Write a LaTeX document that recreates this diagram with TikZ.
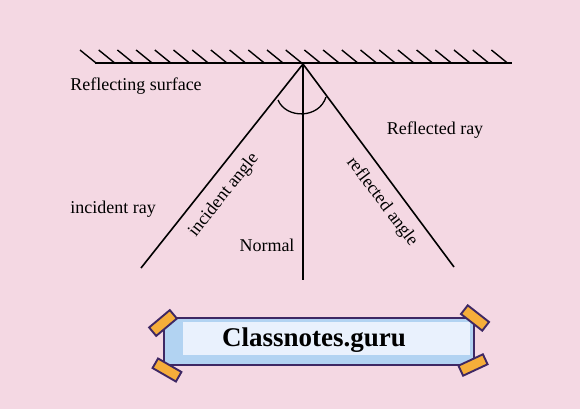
\documentclass[tikz,border=0pt]{standalone}
\usepackage{amssymb}
\usepackage{amsmath}
\usepackage{fontspec}
\setmainfont{Liberation Serif}
\usetikzlibrary{shapes,backgrounds,calc}

\definecolor{bgpink}{RGB}{244,216,227}
\definecolor{framepurple}{RGB}{62,40,100}
\definecolor{paleblue}{RGB}{233,241,253}
\definecolor{midblue}{RGB}{178,211,242}
\definecolor{tapeorange}{RGB}{245,174,58}

\tikzset{
	ray/.style={line width=1.6pt},
	lbl/.style={font=\fontsize{18}{21}\selectfont},
	tape/.style={draw=framepurple,line width=1.9pt,fill=tapeorange,minimum width=27pt,minimum height=11pt,inner sep=0pt}
}

\begin{document}
\begin{tikzpicture}[x=1pt,y=-1pt]
	\fill[bgpink] (0,0) rectangle (580,409);
	\useasboundingbox (0,0) rectangle (580,409);
	
	\coordinate (mL) at (95,63);
	\coordinate (mR) at (512,63);
	\coordinate (O) at (303,64);
	\coordinate (I) at (141,268);
	\coordinate (R) at (454,267);
	\coordinate (N) at (303,280);
	
	\draw[ray] (mL) -- (mR);
	\foreach \i in {0,...,22}
		\draw[line width=1.4pt] (80+18.7*\i,50) -- (96+18.7*\i,63);
	
	\draw[ray] (O) -- (I);
	\draw[ray] (O) -- (N);
	\draw[ray] (O) -- (R);
	\draw[line width=1.3pt] (278,100) .. controls (286,119) and (319,119) .. (326,97);
	
	\node[lbl] (surf) at (136,86) {Reflecting surface};
	\node[lbl] (refl) at (435,130) {Reflected ray};
	\node[lbl] (inc) at (113,209) {incident ray};
	\node[lbl] (norm) at (267,245) {Normal};
	\node[lbl,rotate=51.5] (inca) at (224,195) {incident angle};
	\node[lbl,rotate=-53] (refa) at (382,202) {reflected angle};
	
	% banner
	\draw[framepurple,line width=1.8pt,fill=midblue] (164,318) rectangle (474,365);
	\fill[paleblue] (183,322) rectangle (470,355);
	\node[font=\fontsize{27}{31}\selectfont\bfseries] (site) at (314,340) {Classnotes.guru};
	\node[tape,rotate=40] (t1) at (163,323) {};
	\node[tape,rotate=-30] (t2) at (167,370) {};
	\node[tape,rotate=-38] (t3) at (475,318) {};
	\node[tape,rotate=25] (t4) at (473,365) {};
\end{tikzpicture}
\end{document}
